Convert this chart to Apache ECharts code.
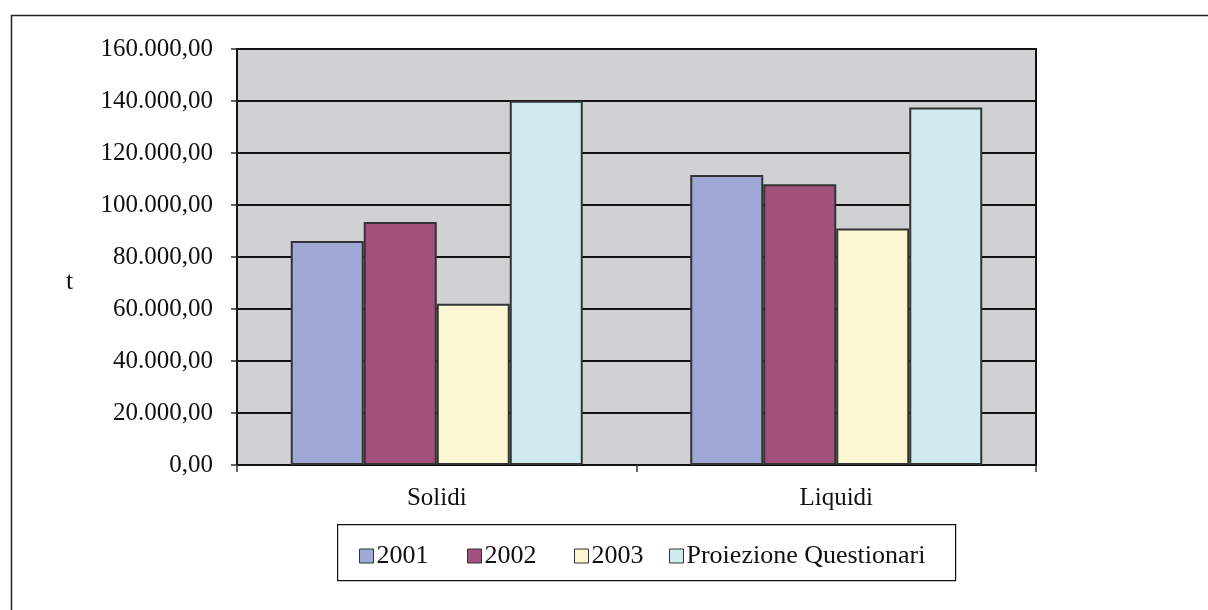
<!DOCTYPE html>
<html>
<head>
<meta charset="utf-8">
<script src="https://cdn.jsdelivr.net/npm/echarts@6/dist/echarts.min.js"></script>
<style>
  html, body { margin: 0; padding: 0; background: #fff; }
  #vis { width: 1208px; height: 610px; }
</style>
</head>
<body>
<div id="vis"></div>
<script>
const categories = ['Solidi', 'Liquidi'];
const seriesNames = ['2001', '2002', '2003', 'Proiezione Questionari'];
const values2001 = [86200, 111500];
const values2002 = [93500, 108000];
const values2003 = [62000, 91000];
const valuesProiezione = [140100, 137500];
const seriesColors = ['#A0A8D6', '#A2507C', '#FBF7D2', '#CFEBF0'];
const legendLefts = [359, 467, 574, 669];

const font = 'Liberation Serif';

// 160000 -> "160.000,00"
function formatIt(v) {
  const intPart = Math.round(v).toString().replace(/\B(?=(\d{3})+(?!\d))/g, '.');
  return intPart + ',00';
}

const chart = echarts.init(document.getElementById('vis'), null, { renderer: 'canvas' });

const allValues = [values2001, values2002, values2003, valuesProiezione];

const series = seriesNames.map((name, i) => ({
  name: name,
  type: 'bar',
  data: allValues[i],
  barWidth: 73,
  barGap: '0%',
  itemStyle: {
    color: seriesColors[i],
    borderColor: '#333',
    borderWidth: 2
  }
}));

const legends = seriesNames.map((name, i) => ({
  data: [name],
  left: legendLefts[i],
  top: 543,
  orient: 'horizontal',
  itemWidth: 14,
  itemHeight: 14,
  itemGap: 0,
  icon: 'rect',
  padding: 0,
  selectedMode: false,
  itemStyle: { borderColor: '#333', borderWidth: 1 },
  textStyle: { fontFamily: font, fontSize: 26, color: '#111', padding: [0, 0, 0, -2] }
}));

const options = {
  backgroundColor: '#fff',
  animation: false,
  graphic: [
    {
      type: 'rect',
      left: 9, top: 13,
      shape: { width: 1300, height: 700 },
      style: { fill: 'none', stroke: '#222', lineWidth: 1.5 },
      silent: true
    },
    {
      type: 'rect',
      left: 337, top: 524,
      shape: { width: 618, height: 56 },
      style: { fill: '#fff', stroke: '#111', lineWidth: 1.2 },
      z: -1,
      silent: true
    },
    {
      type: 'text',
      left: 66, top: 269,
      style: { text: 't', fontFamily: font, fontSize: 26, fill: '#111' },
      silent: true
    }
  ],
  legend: legends,
  grid: {
    left: 237,
    right: 172,
    top: 49,
    bottom: 145,
    show: true,
    backgroundColor: '#D0D1D3',
    borderColor: '#111',
    borderWidth: 2
  },
  xAxis: {
    type: 'category',
    data: categories,
    axisLine: { lineStyle: { color: '#111', width: 2 } },
    axisTick: { show: true, length: 7, lineStyle: { color: '#333', width: 1.5 } },
    axisLabel: { fontFamily: font, fontSize: 25, color: '#111', margin: 21 }
  },
  yAxis: {
    type: 'value',
    min: 0,
    max: 160000,
    interval: 20000,
    axisLine: { show: true, lineStyle: { color: '#111', width: 2 } },
    axisTick: { show: true, length: 6, lineStyle: { color: '#333', width: 1.5 } },
    axisLabel: {
      fontFamily: font, fontSize: 25, color: '#111', margin: 24,
      formatter: formatIt
    },
    splitLine: { show: true, lineStyle: { color: '#111', width: 2 } }
  },
  series: series
};

chart.setOption(options);
</script>
</body>
</html>
